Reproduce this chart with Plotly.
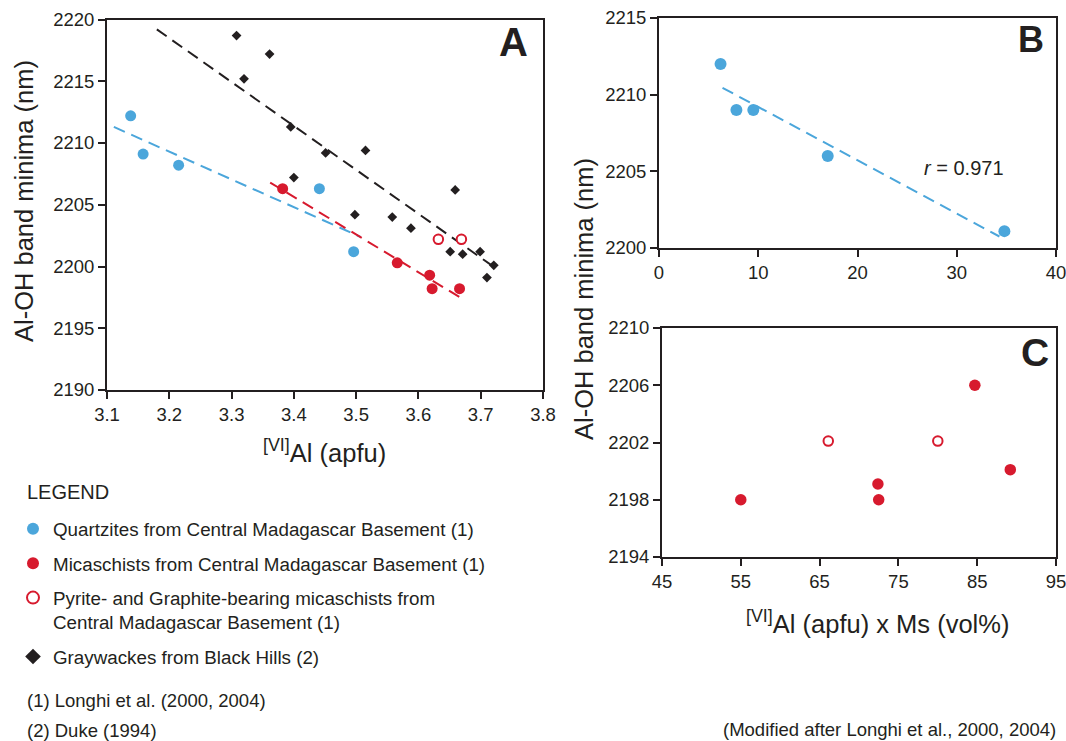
import plotly.graph_objects as go

W, H = 1066, 741
INK = "#231F20"
BLUE = "#4BA6DB"
RED = "#D71A2E"
FONT = "Liberation Sans, Arial, Helvetica, sans-serif"

# ---------------- Panel A data ----------------
qz_x = [3.138, 3.158, 3.215, 3.441, 3.496]
qz_y = [2212.2, 2209.1, 2208.2, 2206.3, 2201.2]

mica_x = [3.382, 3.566, 3.618, 3.622, 3.666]
mica_y = [2206.3, 2200.3, 2199.3, 2198.2, 2198.2]

pyr_x = [3.632, 3.669]
pyr_y = [2202.2, 2202.2]

gw_x = [3.308, 3.361, 3.320, 3.395, 3.451, 3.515, 3.400, 3.498, 3.558,
        3.588, 3.659, 3.651, 3.671, 3.699, 3.721, 3.710]
gw_y = [2218.7, 2217.2, 2215.2, 2211.3, 2209.2, 2209.4, 2207.2, 2204.2, 2204.0,
        2203.1, 2206.2, 2201.2, 2201.0, 2201.2, 2200.1, 2199.1]

# regression lines (end points)
gw_fit_x = [3.180, 3.723]
gw_fit_y = [2219.2, 2199.9]
qz_fit_x = [3.111, 3.507]
qz_fit_y = [2211.3, 2202.4]
mica_fit_x = [3.362, 3.670]
mica_fit_y = [2206.8, 2197.4]

# ---------------- Panel B data ----------------
b_x = [6.2, 7.8, 9.5, 17.0, 34.8]
b_y = [2212.0, 2209.0, 2209.0, 2206.0, 2201.1]
b_fit_x = [6.4, 34.3]
b_fit_y = [2210.45, 2200.75]

# ---------------- Panel C data ----------------
c_mica_x = [55.0, 72.4, 72.5, 84.7, 89.2]
c_mica_y = [2198.0, 2199.1, 2198.0, 2206.0, 2200.1]
c_pyr_x = [66.1, 80.0]
c_pyr_y = [2202.1, 2202.1]

legend_names = [
    "Quartzites from Central Madagascar Basement (1)",
    "Micaschists from Central Madagascar Basement (1)",
    "Pyrite- and Graphite-bearing micaschists from<br>Central Madagascar Basement (1)",
    "Graywackes from Black Hills (2)",
]


def px_x(p):
    return p / W


def px_y(p):
    return 1 - p / H


fig = go.Figure()
dash = "12px,7px"

# panel A fits
fig.add_trace(go.Scatter(x=qz_fit_x, y=qz_fit_y, mode="lines", line=dict(color=BLUE, width=2, dash=dash),
                         showlegend=False, hoverinfo="skip", xaxis="x", yaxis="y"))
fig.add_trace(go.Scatter(x=mica_fit_x, y=mica_fit_y, mode="lines", line=dict(color=RED, width=2, dash=dash),
                         showlegend=False, hoverinfo="skip", xaxis="x", yaxis="y"))
fig.add_trace(go.Scatter(x=gw_fit_x, y=gw_fit_y, mode="lines", line=dict(color=INK, width=2, dash=dash),
                         showlegend=False, hoverinfo="skip", xaxis="x", yaxis="y"))

# panel A points
fig.add_trace(go.Scatter(x=qz_x, y=qz_y, mode="markers", name=legend_names[0], legendgroup="q",
                         marker=dict(color=BLUE, size=11, symbol="circle"), xaxis="x", yaxis="y"))
fig.add_trace(go.Scatter(x=mica_x, y=mica_y, mode="markers", name=legend_names[1], legendgroup="m",
                         marker=dict(color=RED, size=11, symbol="circle"), xaxis="x", yaxis="y"))
fig.add_trace(go.Scatter(x=pyr_x, y=pyr_y, mode="markers", name=legend_names[2], legendgroup="p",
                         marker=dict(color="white", size=9.5, symbol="circle", line=dict(color=RED, width=2)),
                         xaxis="x", yaxis="y"))
fig.add_trace(go.Scatter(x=gw_x, y=gw_y, mode="markers", name=legend_names[3], legendgroup="g",
                         marker=dict(color=INK, size=7.5, symbol="diamond"), xaxis="x", yaxis="y"))

# panel B
fig.add_trace(go.Scatter(x=b_fit_x, y=b_fit_y, mode="lines", line=dict(color=BLUE, width=2, dash=dash),
                         showlegend=False, hoverinfo="skip", xaxis="x2", yaxis="y2"))
fig.add_trace(go.Scatter(x=b_x, y=b_y, mode="markers", showlegend=False,
                         marker=dict(color=BLUE, size=12), xaxis="x2", yaxis="y2"))

# panel C
fig.add_trace(go.Scatter(x=c_mica_x, y=c_mica_y, mode="markers", showlegend=False,
                         marker=dict(color=RED, size=11.5), xaxis="x3", yaxis="y3"))
fig.add_trace(go.Scatter(x=c_pyr_x, y=c_pyr_y, mode="markers", showlegend=False,
                         marker=dict(color="white", size=9.5, line=dict(color=RED, width=2)),
                         xaxis="x3", yaxis="y3"))

axis_common = dict(showline=True, linecolor=INK, linewidth=2, mirror=True, ticks="outside",
                   ticklen=7, tickwidth=2, tickcolor=INK, showgrid=False, zeroline=False,
                   tickfont=dict(size=18.5, color=INK, family=FONT), automargin=False, fixedrange=True,
                   ticklabeloverflow="allow")

fig.update_layout(
    width=W, height=H,
    margin=dict(l=0, r=0, t=0, b=0),
    paper_bgcolor="white", plot_bgcolor="white",
    font=dict(family=FONT, color=INK),
    xaxis=dict(domain=[px_x(107), px_x(543)], range=[3.1, 3.8], dtick=0.1, tick0=3.1,
               tickformat=".1f", anchor="y", **axis_common),
    yaxis=dict(domain=[px_y(390), px_y(19.5)], range=[2190, 2220], dtick=5, tick0=2190,
               anchor="x", **axis_common),
    xaxis2=dict(domain=[px_x(659), px_x(1056)], range=[0, 40], dtick=10, tick0=0,
                anchor="y2", **axis_common),
    yaxis2=dict(domain=[px_y(248), px_y(18)], range=[2200, 2215], dtick=5, tick0=2200,
                anchor="x2", **axis_common),
    xaxis3=dict(domain=[px_x(662), px_x(1056)], range=[45, 95], dtick=10, tick0=45,
                anchor="y3", **axis_common),
    yaxis3=dict(domain=[px_y(557), px_y(328)], range=[2194, 2210], dtick=4, tick0=2194,
                anchor="x3", **axis_common),
    legend=dict(x=px_x(13), y=px_y(510), xanchor="left", yanchor="top",
                font=dict(size=18.8, color=INK, family=FONT), tracegroupgap=7,
                valign="top", bgcolor="rgba(0,0,0,0)", itemsizing="constant"),
    showlegend=True,
)

ann = []


def add_text(text, x, y, size, xanchor="center", yanchor="middle", angle=0, bold=False):
    t = f"<b>{text}</b>" if bold else text
    ann.append(dict(text=t, x=px_x(x), y=px_y(y), xref="paper", yref="paper", showarrow=False,
                    xanchor=xanchor, yanchor=yanchor, textangle=angle,
                    font=dict(size=size, color=INK, family=FONT)))


# panel letters
add_text("A", 530, 42, 40, xanchor="right", bold=True)
add_text("B", 1046, 40, 36, xanchor="right", bold=True)
add_text("C", 1051, 352, 39, xanchor="right", bold=True)

# axis titles
add_text("Al-OH band minima (nm)", 24, 201, 25.5, angle=-90)
add_text("Al-OH band minima (nm)", 584, 299, 25.5, angle=-90)
add_text("<sup>[VI]</sup>Al (apfu)", 324, 451, 25.5)
add_text("<sup>[VI]</sup>Al (apfu) x Ms (vol%)", 877, 622, 25.5)

# r value
add_text("<i>r</i> = 0.971", 922, 168, 20, xanchor="left")

# legend heading and references
add_text("LEGEND", 25, 492, 20, xanchor="left")
add_text("(1) Longhi et al. (2000, 2004)", 25, 700, 18.5, xanchor="left")
add_text("(2) Duke (1994)", 25, 730, 18.5, xanchor="left")
add_text("(Modified after Longhi et al., 2000, 2004)", 1058, 729, 18.5, xanchor="right")

fig.update_layout(annotations=ann)

fig.write_html("out.html")
